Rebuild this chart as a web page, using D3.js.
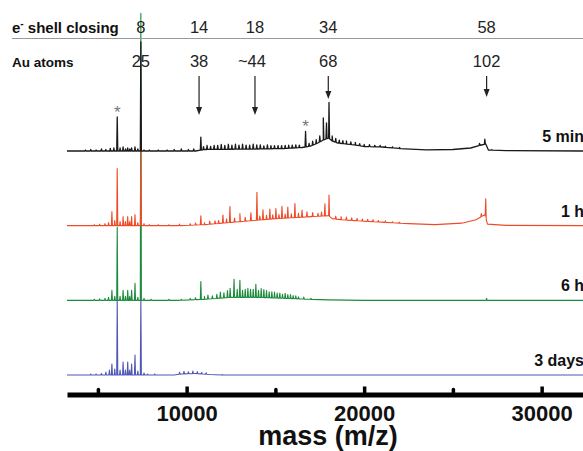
<!DOCTYPE html>
<html>
<head>
<meta charset="utf-8">
<script src="https://cdn.jsdelivr.net/npm/d3@7"></script>
<style>
  body { margin: 0; background: #fff; }
  svg { display: block; font-family: "Liberation Sans", Arial, sans-serif; }
</style>
</head>
<body>
<div id="chart"></div>
<script>
// spectra: peaks are [mass, height above local baseline], baselines are [mass, level]
const traceNames = ['5 min', '1 h', '6 h', '3 days'];
const traceColors = ['#1a1a1a', '#ef4a27', '#1d8b3c', '#5157b4'];

const peaks5min = [[4300,1],[4600,1.5],[4900,1],[5200,2],[5450,1.5],[5700,2.5],[5900,3],[6090,34],[6250,3],[6420,4],[6560,2],[6680,3],[6800,2],[6900,3],[7090,4],[7250,2],[7420,109],[7600,1],[7900,1],[8400,1],[8900,1],[9300,1.5],[9700,2],[10100,1.5],[10400,2],[10800,13],[10950,3],[11150,4],[11350,3],[11550,4],[11750,4],[11950,5],[12150,4],[12350,5],[12550,4],[12750,5],[12950,4],[13150,5],[13350,4],[13550,4],[13750,5],[13950,4],[14150,4],[14350,3],[14550,4],[14750,3],[14950,3],[15150,3],[15350,3],[15550,3],[15750,3],[15950,3],[16150,3],[16350,2.5],[16700,15.5],[16900,3],[17100,4],[17300,4],[17500,6],[17700,22],[17880,16],[18020,36],[18200,5],[18400,4],[18600,3],[18800,3],[19000,3],[19250,2.5],[19500,2.5],[19750,2],[20000,2],[20300,2],[20600,1.5],[20900,1.5],[21200,1],[21600,1],[22000,1],[26500,2],[26800,5],[27200,0.5]];
const base5min = [[3260,0],[10500,0],[11000,1.5],[14000,2],[15500,2.5],[16500,3.5],[17000,5],[17400,8],[17700,11],[18000,13],[18200,10],[18500,8],[19000,7],[19500,6],[20000,4.5],[21000,4],[22000,2.5],[23500,1.2],[25000,1.5],[26000,3],[26600,6],[26850,7],[27000,1],[28000,0.3],[32330,0]];

const peaks1h = [[4800,1],[5100,1.5],[5400,2],[5600,3],[5790,14],[5950,5],[6090,57],[6250,4],[6420,9],[6550,4],[6680,9],[6790,4],[6900,9],[7090,11],[7250,3],[7420,74],[7600,2],[7900,1],[8400,1],[9000,1],[9600,1.5],[10200,1.5],[10500,2],[10800,9],[11000,2],[11300,3],[11600,3],[11800,3],[12045,8],[12250,4],[12440,16],[12700,4],[13000,8],[13300,4],[13620,8],[13960,28],[14120,4],[14300,10],[14500,4],[14690,10],[14850,4],[15030,10],[15200,4],[15370,12],[15550,4],[15700,11],[15900,4],[16100,14],[16300,4],[16500,7],[16780,5],[17100,4],[17400,3],[17600,4],[17790,12],[18020,21],[18400,3],[18700,3],[19000,3],[19300,2.5],[19600,2.5],[19900,2],[20200,2],[20500,2],[20800,1.5],[21200,1.5],[21600,1],[22000,1],[26600,3],[26850,19]];
const base1h = [[3260,0],[9500,0],[11000,1],[13000,4],[15000,7],[17000,9],[18000,10],[18200,7],[18700,6],[19500,5],[21000,3.5],[22500,2],[24000,1],[25500,2.5],[26300,6],[26800,11],[26950,1.5],[28000,0.3],[32330,0]];

const peaks6h = [[4800,1],[5100,1.5],[5400,2],[5600,3],[5790,10],[5950,4],[6090,73],[6250,4],[6420,10],[6550,4],[6680,10],[6790,4],[6900,10],[7090,17],[7250,3],[7420,287],[7600,2],[8000,1],[9000,1],[9700,1],[10200,1.5],[10500,2],[10800,18],[11000,3],[11200,4],[11450,3],[11700,4],[11900,6],[12100,5],[12300,7],[12450,9],[12670,18],[12850,8],[13000,17],[13150,7],[13300,8],[13450,9],[13600,8],[13750,8],[13900,13],[14050,7],[14200,9],[14350,8],[14500,7],[14650,6],[14800,6],[14950,6],[15100,5],[15250,5],[15400,4],[15550,5],[15700,4],[15850,4],[16000,3],[16150,3],[16300,2],[16600,2],[17000,1],[26900,2]];
const base6h = [[3260,0],[9500,0],[11000,1],[12500,3],[14000,3],[15500,2],[17000,1],[18000,0.5],[20000,0],[32330,0]];

const peaks3d = [[4600,1],[4900,1],[5200,1.5],[5450,3],[5650,5],[5790,11],[5950,6],[6090,75],[6250,5],[6420,13],[6550,5],[6680,13],[6790,5],[6900,11],[7090,20],[7250,4],[7420,76],[7600,2],[7800,1],[8200,1],[9600,2],[9850,2.5],[10100,2],[10350,2.5],[10600,2],[10850,1.5],[11100,1.5],[12000,0.5]];
const base3d = [[3260,0],[9300,0],[9700,1],[10500,1.5],[11300,0.5],[12000,0],[32330,0]];

// header annotations
const headerMass = [7420, 10700, 13850, 17980, 26900];
const shellLabels = ['8', '14', '18', '34', '58'];
const atomLabels = ['25', '38', '~44', '68', '102'];
const arrowEnds = [null, 115, 115, 99, 97];
const starMass = [6090, 16700];

const massTicks = [5000, 10000, 15000, 20000, 25000, 30000];

const width = 583, height = 451;

const svg = d3.select('#chart').append('svg')
  .attr('width', width)
  .attr('height', height)
  .attr('viewBox', [0, 0, width, height]);

const x = d3.scaleLinear().domain([3260, 32330]).range([67, 583]);
const lane = d3.scalePoint().domain(traceNames).range([151, 375]);
const yInt = d3.scaleLinear().domain([0, 100]).range([0, -100]);

const traces = [
  {name: '5 min', peaks: peaks5min, base: base5min},
  {name: '1 h', peaks: peaks1h, base: base1h},
  {name: '6 h', peaks: peaks6h, base: base6h},
  {name: '3 days', peaks: peaks3d, base: base3d}
];

const halfWidth = 30; // Da, half width of a spike

const tracePoints = t => {
  const baseline = d3.scaleLinear()
    .domain(t.base.map(d => d[0]))
    .range(t.base.map(d => d[1]))
    .clamp(true);
  const pts = t.base.map(([m, l]) => [m, l]);
  t.peaks.forEach(([m, h]) => {
    pts.push([m - halfWidth, baseline(m - halfWidth)]);
    pts.push([m, baseline(m) + h]);
    pts.push([m + halfWidth, baseline(m + halfWidth)]);
  });
  return pts.sort((a, b) => a[0] - b[0]);
};

const line = d3.line()
  .x(d => x(d[0]))
  .y(d => yInt(d[1]));

// draw bottom trace first so the upper traces sit on top
const traceG = svg.append('g');
traces.slice().reverse().forEach(t => {
  const i = traceNames.indexOf(t.name);
  traceG.append('path')
    .attr('transform', `translate(0,${lane(t.name)})`)
    .attr('fill', 'none')
    .attr('stroke', traceColors[i])
    .attr('stroke-width', i === 0 ? 1.3 : 1.1)
    .attr('stroke-linejoin', 'round')
    .attr('d', line(tracePoints(t)));
});

// trace labels
svg.append('g')
  .attr('font-size', 16)
  .attr('font-weight', 'bold')
  .attr('text-anchor', 'end')
  .attr('fill', '#111')
  .selectAll('text')
  .data(traceNames)
  .join('text')
  .attr('x', 584)
  .attr('y', d => lane(d) - 9)
  .text(d => d);

// asterisks over impurity peaks of the top trace
const topBase = d3.scaleLinear().domain(base5min.map(d => d[0])).range(base5min.map(d => d[1]));
svg.append('g')
  .attr('font-size', 17)
  .attr('fill', '#777')
  .attr('text-anchor', 'middle')
  .selectAll('text')
  .data(starMass)
  .join('text')
  .attr('x', d => x(d))
  .attr('y', d => lane('5 min') + yInt(topBase(d) + peaks5min.find(p => p[0] === d)[1]) + 1)
  .text('*');

// header
svg.append('line')
  .attr('x1', 12).attr('x2', 583)
  .attr('y1', 38.5).attr('y2', 38.5)
  .attr('stroke', '#999')
  .attr('stroke-width', 1.2);

const shellText = svg.append('text')
  .attr('x', 12).attr('y', 33)
  .attr('font-size', 15)
  .attr('font-weight', 'bold')
  .attr('fill', '#111');
shellText.append('tspan').text('e');
shellText.append('tspan').attr('font-size', 10).attr('dy', -6).text('-');
shellText.append('tspan').attr('dy', 6).text(' shell closing');

svg.append('text')
  .attr('x', 12).attr('y', 67)
  .attr('font-size', 13.5)
  .attr('font-weight', 'bold')
  .attr('fill', '#111')
  .text('Au atoms');

svg.append('g')
  .attr('font-size', 16.5)
  .attr('text-anchor', 'middle')
  .attr('fill', '#222')
  .selectAll('text')
  .data(shellLabels)
  .join('text')
  .attr('x', (d, i) => x(headerMass[i]))
  .attr('y', 33)
  .text(d => d);

svg.append('g')
  .attr('font-size', 16.5)
  .attr('text-anchor', 'middle')
  .attr('fill', '#222')
  .selectAll('text')
  .data(atomLabels)
  .join('text')
  .attr('x', (d, i) => x(headerMass[i]) - (d[0] === '~' ? 3 : 0))
  .attr('y', 67)
  .text(d => d);

const arrows = svg.append('g')
  .selectAll('g')
  .data(headerMass.map((m, i) => ({m, end: arrowEnds[i]})).filter(d => d.end))
  .join('g')
  .attr('transform', d => `translate(${x(d.m)},0)`);
arrows.append('line')
  .attr('y1', 76)
  .attr('y2', d => d.end - 6)
  .attr('stroke', '#222')
  .attr('stroke-width', 1.2);
arrows.append('path')
  .attr('d', d => `M-3,${d.end - 8}L3,${d.end - 8}L0,${d.end}Z`)
  .attr('fill', '#222');

// mass axis
const axis = d3.axisBottom(x)
  .tickValues(massTicks)
  .tickSizeInner(-8)
  .tickSizeOuter(0)
  .tickPadding(11)
  .tickFormat(d => d % 10000 === 0 ? d : '');

svg.append('g')
  .attr('transform', 'translate(0,394.5)')
  .call(axis)
  .call(g => g.select('.domain').attr('stroke', '#000').attr('stroke-width', 5))
  .call(g => g.selectAll('.tick line')
    .attr('stroke', '#000')
    .attr('stroke-width', 3.5)
    .attr('y2', d => d % 10000 === 0 ? -8 : -5)
    .attr('stroke-linecap', d => d % 10000 === 0 ? 'butt' : 'round'))
  .call(g => g.selectAll('.tick text')
    .attr('fill', '#111')
    .attr('font-size', 22)
    .attr('font-weight', 'bold')
    .attr('font-family', '"Liberation Sans", Arial, sans-serif'))
  .call(g => g.append('text')
    .attr('x', 328)
    .attr('y', 50)
    .attr('fill', '#111')
    .attr('text-anchor', 'middle')
    .attr('font-size', 27)
    .attr('font-weight', 'bold')
    .attr('font-family', '"Liberation Sans", Arial, sans-serif')
    .text('mass (m/z)'));
</script>
</body>
</html>
